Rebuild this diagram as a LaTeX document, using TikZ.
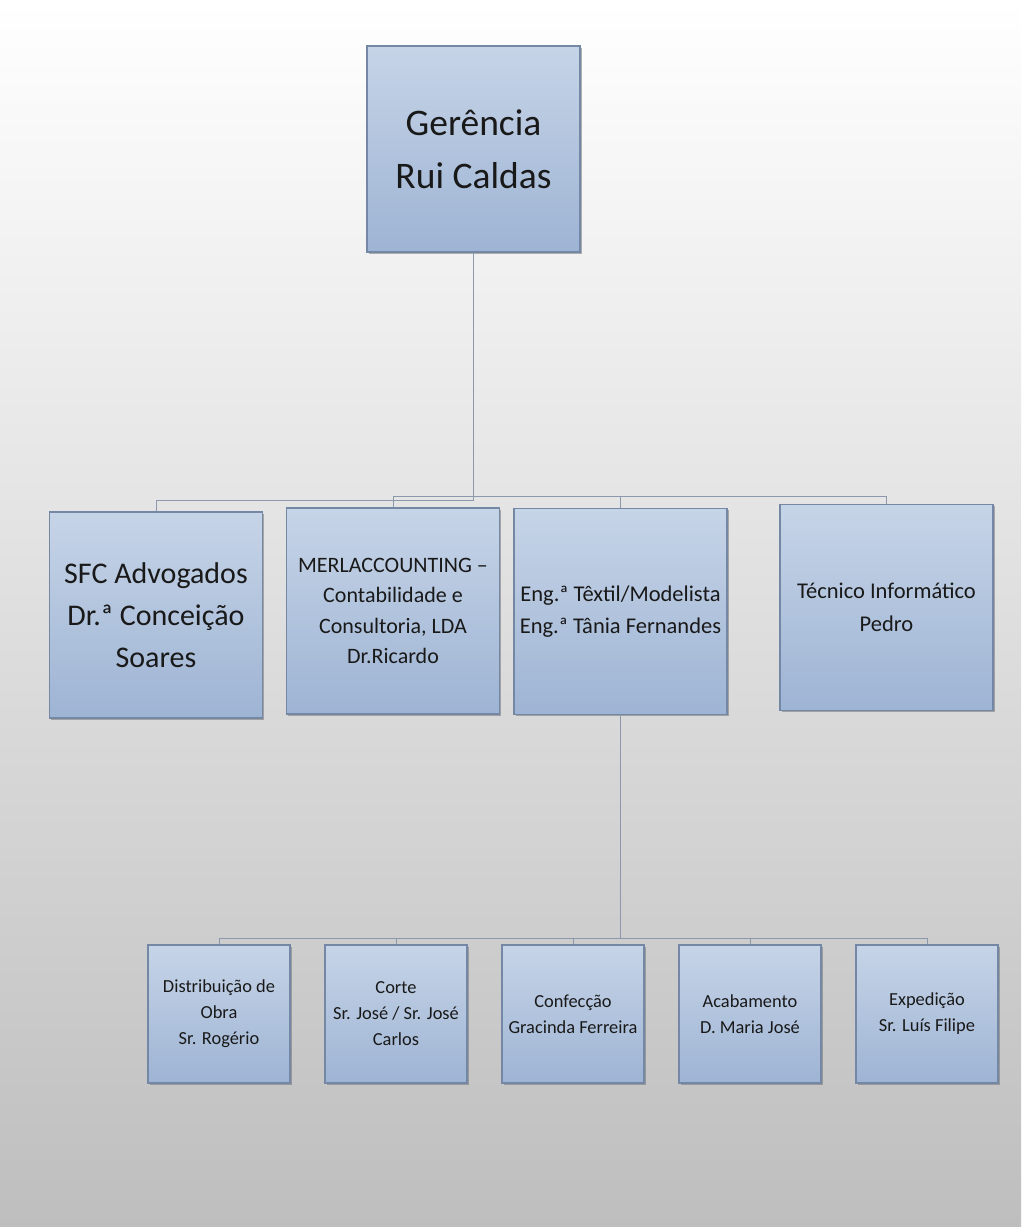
\documentclass[tikz,border=0pt]{standalone}
\usepackage{fontspec}
\setmainfont{Carlito}
\usetikzlibrary{positioning, shadows}

\definecolor{boxtop}{HTML}{C6D4E7}
\definecolor{boxbot}{HTML}{9EB4D4}
\definecolor{boxline}{HTML}{7488A6}
\definecolor{linkcol}{HTML}{8C98AC}
\definecolor{bgbot}{HTML}{BEBEBE}

\tikzset{
  unit/.style={draw=boxline, line width=1.3pt, top color=boxtop, bottom color=boxbot,
    align=center, inner sep=0pt, text=black!90,
    drop shadow={shadow xshift=1.6pt, shadow yshift=-1.6pt, fill=black!55, opacity=.55}},
  bigunit/.style={unit, minimum width=213pt, minimum height=206pt},
  smallunit/.style={unit, minimum width=142pt, minimum height=138pt,
    font=\fontsize{18.4}{26}\selectfont},
  link/.style={draw=linkcol, line width=1pt}
}

\begin{document}
\begin{tikzpicture}[x=1pt,y=-1pt,node distance=177pt,on grid]
        % page background
        \shade[top color=white, bottom color=bgbot] (0,0) rectangle (1021,1227);
        \useasboundingbox (0,0) rectangle (1021,1227);

        \node[bigunit, font=\fontsize{37.5}{53}\selectfont] (ger) at (473.5,149) {Gerência\\Rui Caldas};

        \node[bigunit, font=\fontsize{30}{42}\selectfont] (sfc) at (156,615) {SFC Advogados\\Dr.ª Conceição\\Soares};
        \node[bigunit, font=\fontsize{22}{30.5}\selectfont] (merl) at (393,611) {MERLACCOUNTING –\\Contabilidade e\\Consultoria, LDA\\Dr.Ricardo};
        \node[bigunit, font=\fontsize{22.5}{32.5}\selectfont] (eng) at (620.5,611.5) {Eng.ª Têxtil/Modelista\\Eng.ª Tânia Fernandes};
        \node[bigunit, font=\fontsize{22.5}{32.5}\selectfont] (tec) at (886.5,607.5) {Técnico Informático\\Pedro};

        \node[smallunit] (dist) at (219,1014) {Distribuição de\\Obra\\Sr. Rogério};
        \node[smallunit] (corte) [right=of dist] {Corte\\Sr. José / Sr. José\\Carlos};
        \node[smallunit] (conf) [right=of corte] {Confecção\\Gracinda Ferreira};
        \node[smallunit] (acab) [right=of conf] {Acabamento\\D. Maria José};
        \node[smallunit] (exped) [right=of acab] {Expedição\\Sr. Luís Filipe};

        % bus heights
        \coordinate (busa) at (0,500);
        \coordinate (busb) at (0,496);
        \coordinate (busc) at (0,938);

        \draw[link] (ger.south) -- (ger.south |- busa) -| (sfc.north);
        \foreach \n in {merl,eng,tec}
          \draw[link] (ger.south) -- (ger.south |- busb) -| (\n.north);
        \foreach \n in {dist,corte,conf,acab,exped}
          \draw[link] (eng.south) -- (eng.south |- busc) -| (\n.north);
      \end{tikzpicture}
\end{document}
